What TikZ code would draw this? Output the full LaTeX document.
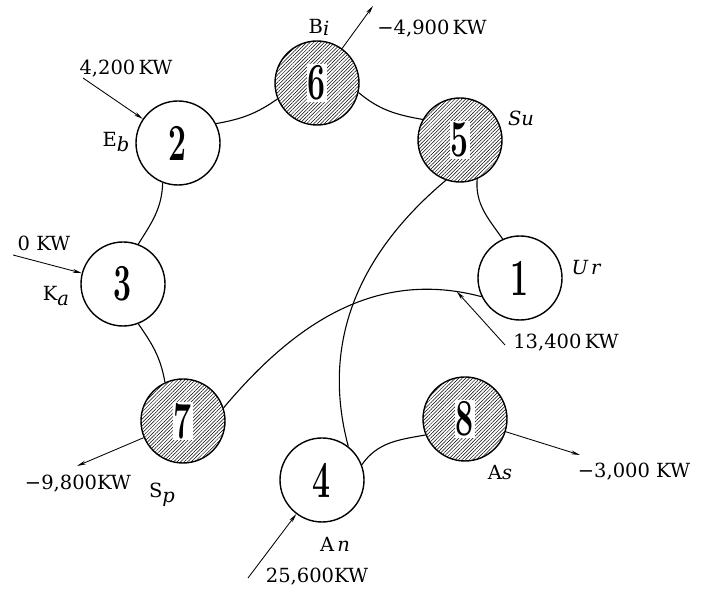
\documentclass[tikz,border=0pt]{standalone}
\usepackage{fontspec}
\newfontfamily\labelfont{DejaVu Serif}
\usetikzlibrary{arrows.meta,patterns.meta}
\tikzset{
  hub/.style={circle, draw, line width=1.4pt, minimum size=84pt, inner sep=0pt},
  hatched/.style={pattern={Lines[angle=45,distance=2.5pt,line width=0.5pt]}},
  link/.style={line width=1.1pt},
  feed/.style={line width=0.85pt, -{Stealth[length=9pt,width=3.8pt]}},
  kw/.style={font=\labelfont\fontsize{19.5}{22}\selectfont, inner sep=0pt},
  site/.style={font=\labelfont\fontsize{19.5}{21}\selectfont, inner sep=0pt},
}
\newcommand\hubnum[1]{{\setlength\fboxsep{1.2pt}\colorbox{white}{\fontsize{40}{40}\selectfont\bfseries\scalebox{0.8}[1.3]{#1}}}}
\begin{document}
\begin{tikzpicture}[x=1pt,y=1pt]
\useasboundingbox (0,0) rectangle (701,593);

% stations
\node[hub]          (n1) at (520,315) {\hubnum{1}};
\node[hub]          (n2) at (178,450) {\hubnum{2}};
\node[hub]          (n3) at (123,309) {\hubnum{3}};
\node[hub]          (n4) at (322,113) {\hubnum{4}};
\node[hub, hatched] (n5) at (460,453) {\hubnum{5}};
\node[hub, hatched] (n6) at (317,510) {\hubnum{6}};
\node[hub, hatched] (n7) at (183,172) {\hubnum{7}};
\node[hub, hatched] (n8) at (465,174) {\hubnum{8}};

% lines between stations
\draw[link] (n2.27)   to[out=10,in=215]   (n6.202);
\draw[link] (n6.-13)  to[out=-40,in=170]  (n5.151);
\draw[link] (n5.-66)  to[out=-95,in=125]  (n1.114);
\draw[link] (n2.-111) to[out=-92,in=58]   (n3.69);
\draw[link] (n3.-69)  to[out=-55,in=100]  (n7.115);
\draw[link] (n7.18)   to[out=50,in=165] node[coordinate,pos=0.92] (tap) {} (n1.206);
\draw[link] (n5.-109) to[out=-140,in=105] (n4.52);
\draw[link] (n4.21)   to[out=55,in=190]   (n8.202);

% free ends of the feeds
\coordinate (f2) at (83,515);
\coordinate (f3) at (13,338);
\coordinate (f6) at (373,587);
\coordinate (ft) at (505,248);
\coordinate (f7) at (77,127);
\coordinate (f4) at (248,15);
\coordinate (f8) at (580,138);

% feeds in and out
\draw[feed] (f2) -- (n2);
\draw[feed] (f3) -- (n3);
\draw[feed] (n6) -- (f6);
\draw[feed] (ft) -- (tap);
\draw[feed] (n7) -- (f7);
\draw[feed] (f4) -- (n4);
\draw[feed] (n8) -- (f8);

% power values
\node[kw] (p2) at (126,524) {4,200\,KW};
\node[kw] (p3) at (44,350)  {0 KW};
\node[kw] (p6) at (432,564) {−4,900\,KW};
\node[kw] (pt) at (566,250) {13,400\,KW};
\node[kw] (p7) at (78,109)  {−9,800KW};
\node[kw] (p4) at (317,16)  {25,600KW};
\node[kw] (p8) at (634,121) {−3,000 KW};

% station names
\node[site] (s6) at (319,566) {B\raisebox{-0.2ex}{\itshape i}};
\node[site] (s2) at (116,451) {E\raisebox{-0.45ex}{\itshape b}};
\node[site] (s5) at (521,475) {\itshape Su};
\node[site] (s1) at (586,325) {\itshape U\,r};
\node[site] (s3) at (56,297)  {K\raisebox{-0.45ex}{\itshape a}};
\node[site] (s7) at (162,98)  {S\raisebox{-0.5ex}{\itshape p}};
\node[site] (s4) at (335,49)  {A\,\textit{n}};
\node[site] (s8) at (500,120) {A\textit{s}};
\end{tikzpicture}
\end{document}
